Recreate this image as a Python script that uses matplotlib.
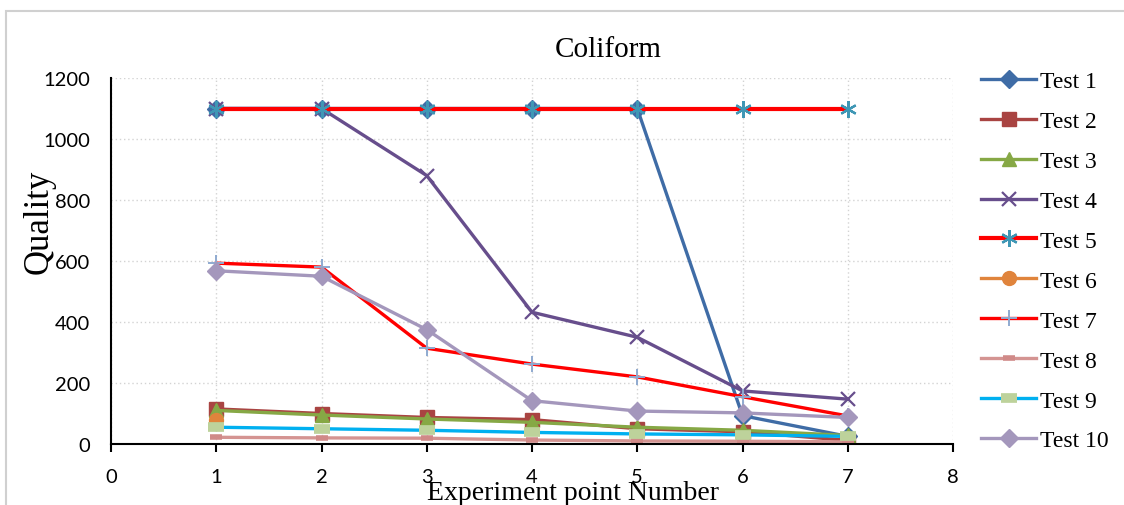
"""Coliform quality along the experiment points for ten tests."""
import matplotlib
matplotlib.use('Agg')
import matplotlib.pyplot as plt
from matplotlib.patches import Rectangle

points = [1, 2, 3, 4, 5, 6, 7]

test1 = [1100, 1100, 1100, 1100, 1100, 93, 25]
test2 = [115, 100, 87, 80, 50, 40, 12]
test3 = [110, 95, 82, 71, 55, 45, 28]
test4 = [1100, 1100, 880, 432, 350, 174, 147]
test5 = [1100, 1100, 1100, 1100, 1100, 1100, 1100]
test6_points = [1]
test6 = [80]
test7 = [593, 580, 314, 262, 220, 155, 92]
test8 = [22, 20, 19, 13, 10, 9, 7]
test9 = [55, 50, 45, 38, 33, 30, 25]
test10 = [568, 550, 375, 142, 108, 102, 87]

x_ticks = [0, 1, 2, 3, 4, 5, 6, 7, 8]
y_ticks = [0, 200, 400, 600, 800, 1000, 1200]

SERIF = 'Liberation Serif'
SANS = 'Lato'

fig = plt.figure(figsize=(11.24, 5.06), dpi=100)
ax = fig.add_axes([111 / 1124, 1 - 445 / 506, (953 - 111) / 1124, (445 - 79) / 506])

lw = 2.4
ax.plot(points, test1, color='#3F6CA6', lw=lw, marker='D', ms=9, label='Test 1')
ax.plot(points, test2, color='#A94442', lw=lw, marker='s', ms=10, label='Test 2')
ax.plot(points, test3, color='#86A845', lw=lw, marker='^', ms=10, label='Test 3')
ax.plot(points, test4, color='#674E8C', lw=lw, marker='x', ms=10, mew=1.6, label='Test 4')
ax.plot(points, test5, color='#FF0000', lw=3, marker=(6, 2, 0), ms=12, mew=1.6,
        mec='#3F97B5', label='Test 5')
ax.plot(test6_points, test6, color='#E0843C', lw=lw, marker='o', ms=10, label='Test 6')
ax.plot(points, test7, color='#FF0000', lw=lw, marker='+', ms=11, mew=1.4,
        mec='#8FAAD0', label='Test 7')
ax.plot(points, test8, color='#D49492', lw=lw, marker='_', ms=8, mew=4,
        mec='#D08A88', label='Test 8')
ax.plot(points, test9, color='#00B0F0', lw=lw, marker='_', ms=12, mew=7,
        mec='#BDD29B', label='Test 9')
ax.plot(points, test10, color='#A497BC', lw=lw, marker='D', ms=9, label='Test 10')

ax.set_xlim(0, 8)
ax.set_ylim(0, 1200)
ax.set_xticks(x_ticks)
ax.set_yticks(y_ticks)
ax.grid(True, linestyle=(0, (1, 2)), color='#D3D3D3', lw=1)
ax.set_axisbelow(True)
for side in ('top', 'right'):
    ax.spines[side].set_visible(False)
for side in ('left', 'bottom'):
    ax.spines[side].set_linewidth(1.5)
    ax.spines[side].set_color('black')
ax.tick_params(axis='x', direction='out', length=6, width=1.5, pad=11, labelsize=14.5)
ax.tick_params(axis='y', length=0, pad=15, labelsize=14.5)
for lab in ax.get_xticklabels() + ax.get_yticklabels():
    lab.set_family(SANS)

fig.text(608 / 1124, 1 - 50 / 506, 'Coliform', family=SERIF, fontsize=21,
         ha='center', va='center')
fig.text(573 / 1124, 1 - 494 / 506, 'Experiment point Number', family=SERIF,
         fontsize=20, ha='center', va='center')
fig.text(39 / 1124, 1 - 222 / 506, 'Quality', family=SERIF, fontsize=25,
         rotation=90, ha='center', va='center')

ax.legend(loc='upper left', bbox_to_anchor=(972 / 1124, 1 - 62 / 506),
          bbox_transform=fig.transFigure, frameon=False,
          prop={'family': SERIF, 'size': 17}, handlelength=2.3,
          handletextpad=0.2, labelspacing=0.78, borderaxespad=0)

# light outer frame around the chart
fig.patches.append(Rectangle((6 / 1124, -0.1), 1.2, 1.1 - 12 / 506,
                             transform=fig.transFigure, fill=False,
                             edgecolor='#D0D0D0', lw=1.5))

fig.savefig('out.png', dpi=100)
